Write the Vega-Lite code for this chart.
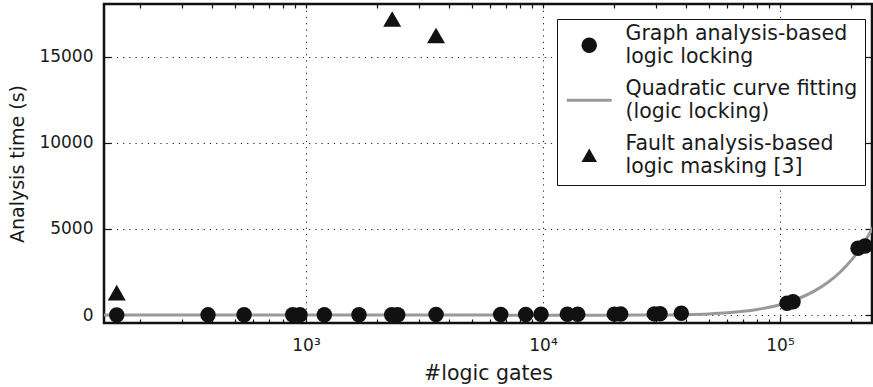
{
  "$schema": "https://vega.github.io/schema/vega-lite/v6.json",
  "autosize": "none",
  "width": 768,
  "height": 319,
  "padding": {"left": 104, "top": 4, "right": 1, "bottom": 64},
  "background": "white",
  "config": {
    "view": {"stroke": "#111111", "strokeWidth": 2.5},
    "font": "DejaVu Sans",
    "axis": {
      "labelFont": "DejaVu Sans",
      "titleFont": "DejaVu Sans",
      "labelColor": "#1a1a1a",
      "titleColor": "#1a1a1a",
      "titleFontWeight": "normal",
      "domain": false,
      "tickColor": "#111111",
      "tickWidth": 1.2,
      "grid": false
    },
    "legend": {
      "orient": "none", "legendX": 453, "legendY": 15,
      "padding": 7, "symbolOffset": 15, "labelOffset": 26,
      "titleFontSize": 2, "titlePadding": 7, "titleColor": "white",
      "labelFontSize": 20.5, "labelFont": "DejaVu Sans", "labelColor": "#1a1a1a",
      "labelBaseline": "line-bottom",
      "labelLimit": 400, "rowPadding": 11, "symbolSize": 240,
      "strokeColor": "#111111", "fillColor": "white", "symbolStrokeWidth": 0
    }
  },
  "datasets": {
    "curve": [
      {"gates": 140, "time": 0},
      {"gates": 1000, "time": 0},
      {"gates": 5000, "time": -5},
      {"gates": 10000, "time": -10},
      {"gates": 20000, "time": -10},
      {"gates": 30000, "time": 0},
      {"gates": 40000, "time": 20},
      {"gates": 50000, "time": 60},
      {"gates": 60000, "time": 125},
      {"gates": 70000, "time": 215},
      {"gates": 80000, "time": 325},
      {"gates": 90000, "time": 455},
      {"gates": 100000, "time": 600},
      {"gates": 120000, "time": 960},
      {"gates": 140000, "time": 1400},
      {"gates": 160000, "time": 1915},
      {"gates": 180000, "time": 2515},
      {"gates": 200000, "time": 3190},
      {"gates": 220000, "time": 3950},
      {"gates": 240000, "time": 4790},
      {"gates": 250000, "time": 5235}
    ],
    "points": [
      {"gates": 159, "time": 5, "series": "Graph analysis-based|logic locking"},
      {"gates": 386, "time": 8, "series": "Graph analysis-based|logic locking"},
      {"gates": 548, "time": 10, "series": "Graph analysis-based|logic locking"},
      {"gates": 879, "time": 12, "series": "Graph analysis-based|logic locking"},
      {"gates": 943, "time": 12, "series": "Graph analysis-based|logic locking"},
      {"gates": 1195, "time": 15, "series": "Graph analysis-based|logic locking"},
      {"gates": 1673, "time": 18, "series": "Graph analysis-based|logic locking"},
      {"gates": 2299, "time": 20, "series": "Graph analysis-based|logic locking"},
      {"gates": 2437, "time": 20, "series": "Graph analysis-based|logic locking"},
      {"gates": 3537, "time": 25, "series": "Graph analysis-based|logic locking"},
      {"gates": 6630, "time": 30, "series": "Graph analysis-based|logic locking"},
      {"gates": 8454, "time": 35, "series": "Graph analysis-based|logic locking"},
      {"gates": 9808, "time": 40, "series": "Graph analysis-based|logic locking"},
      {"gates": 12664, "time": 45, "series": "Graph analysis-based|logic locking"},
      {"gates": 14011, "time": 45, "series": "Graph analysis-based|logic locking"},
      {"gates": 19991, "time": 50, "series": "Graph analysis-based|logic locking"},
      {"gates": 21272, "time": 55, "series": "Graph analysis-based|logic locking"},
      {"gates": 29488, "time": 65, "series": "Graph analysis-based|logic locking"},
      {"gates": 31162, "time": 70, "series": "Graph analysis-based|logic locking"},
      {"gates": 38325, "time": 100, "series": "Graph analysis-based|logic locking"},
      {"gates": 107030, "time": 680, "series": "Graph analysis-based|logic locking"},
      {"gates": 113470, "time": 773, "series": "Graph analysis-based|logic locking"},
      {"gates": 213370, "time": 3878, "series": "Graph analysis-based|logic locking"},
      {"gates": 228390, "time": 4012, "series": "Graph analysis-based|logic locking"},
      {"gates": 159, "time": 1300, "series": "Fault analysis-based|logic masking [3]"},
      {"gates": 2310, "time": 17210, "series": "Fault analysis-based|logic masking [3]"},
      {"gates": 3537, "time": 16250, "series": "Fault analysis-based|logic masking [3]"}
    ]
  },
  "layer": [
    {
      "data": {"name": "curve"},
      "mark": {"type": "line", "color": "#999999", "strokeWidth": 3, "clip": true, "interpolate": "monotone"},
      "encoding": {
        "x": {
          "field": "gates", "type": "quantitative",
          "scale": {"type": "log", "domain": [140.5, 244400], "nice": false},
          "axis": {
            "orient": "bottom",
            "values": [1000, 10000, 100000],
            "labelExpr": "datum.value == 1000 ? '10³' : datum.value == 10000 ? '10⁴' : '10⁵'",
            "labelFontSize": 17,
            "labelPadding": 21,
            "tickSize": -7,
            "grid": true,
            "gridDash": [1.2, 5],
            "gridColor": "#222222",
            "gridWidth": 1,
            "title": "#logic gates",
            "titleFontSize": 20.5,
            "titlePadding": 10
          }
        },
        "y": {
          "field": "time", "type": "quantitative",
          "scale": {"domain": [-465, 18081], "nice": false, "zero": false},
          "axis": {
            "orient": "left",
            "values": [0, 5000, 10000, 15000],
            "format": "d",
            "labelFontSize": 17,
            "labelPadding": 18,
            "tickSize": -7,
            "grid": true,
            "gridDash": [1.2, 5],
            "gridColor": "#222222",
            "gridWidth": 1,
            "title": "Analysis time (s)",
            "titleFontSize": 19,
            "titlePadding": 11
          }
        }
      }
    },
    {
      "data": {"name": "points"},
      "transform": [{"filter": "datum.series == 'Graph analysis-based|logic locking'"}],
      "mark": {"type": "point", "filled": true, "size": 240, "opacity": 1},
      "encoding": {
        "x": {
          "field": "gates", "type": "quantitative",
          "scale": {"type": "log", "domain": [140.5, 244400], "nice": false},
          "axis": {
            "orient": "bottom",
            "values": [200, 300, 400, 500, 600, 700, 800, 900, 2000, 3000, 4000, 5000, 6000, 7000, 8000, 9000, 20000, 30000, 40000, 50000, 60000, 70000, 80000, 90000, 200000],
            "labels": false,
            "tickSize": -4,
            "grid": false,
            "title": null
          }
        },
        "y": {
          "field": "time", "type": "quantitative",
          "scale": {"domain": [-465, 18081], "nice": false, "zero": false},
          "axis": {
            "orient": "right",
            "values": [0, 5000, 10000, 15000],
            "labels": false,
            "tickSize": -7,
            "grid": false,
            "title": null
          }
        },
        "shape": {
          "field": "series", "type": "nominal",
          "scale": {
            "domain": ["Graph analysis-based|logic locking", "Quadratic curve fitting|(logic locking)", "Fault analysis-based|logic masking [3]"],
            "range": ["circle", "M-2.9,-0.19L2.9,-0.19L2.9,0.19L-2.9,0.19Z", "triangle-up"]
          },
          "legend": {"title": ".", "labelExpr": "split(datum.label, '|')"}
        },
        "color": {
          "field": "series", "type": "nominal",
          "scale": {
            "domain": ["Graph analysis-based|logic locking", "Quadratic curve fitting|(logic locking)", "Fault analysis-based|logic masking [3]"],
            "range": ["#111111", "#999999", "#111111"]
          },
          "legend": {"title": ".", "labelExpr": "split(datum.label, '|')"}
        }
      }
    },
    {
      "data": {"name": "points"},
      "transform": [{"filter": "datum.series == 'Fault analysis-based|logic masking [3]'"}],
      "mark": {"type": "point", "filled": true, "size": 324, "opacity": 1},
      "encoding": {
        "x": {
          "field": "gates", "type": "quantitative",
          "scale": {"type": "log", "domain": [140.5, 244400], "nice": false},
          "axis": {
            "orient": "top",
            "values": [200, 300, 400, 500, 600, 700, 800, 900, 1000, 2000, 3000, 4000, 5000, 6000, 7000, 8000, 9000, 10000, 20000, 30000, 40000, 50000, 60000, 70000, 80000, 90000, 100000, 200000],
            "labels": false,
            "tickSize": -4,
            "grid": false,
            "title": null
          }
        },
        "y": {
          "field": "time", "type": "quantitative",
          "scale": {"domain": [-465, 18081], "nice": false, "zero": false},
          "axis": null
        },
        "shape": {
          "field": "series", "type": "nominal",
          "scale": {
            "domain": ["Graph analysis-based|logic locking", "Quadratic curve fitting|(logic locking)", "Fault analysis-based|logic masking [3]"],
            "range": ["circle", "M-2.9,-0.19L2.9,-0.19L2.9,0.19L-2.9,0.19Z", "triangle-up"]
          },
          "legend": {"title": ".", "labelExpr": "split(datum.label, '|')"}
        },
        "color": {
          "field": "series", "type": "nominal",
          "scale": {
            "domain": ["Graph analysis-based|logic locking", "Quadratic curve fitting|(logic locking)", "Fault analysis-based|logic masking [3]"],
            "range": ["#111111", "#999999", "#111111"]
          },
          "legend": {"title": ".", "labelExpr": "split(datum.label, '|')"}
        }
      }
    }
  ],
  "resolve": {"axis": {"x": "independent", "y": "independent"}}
}
